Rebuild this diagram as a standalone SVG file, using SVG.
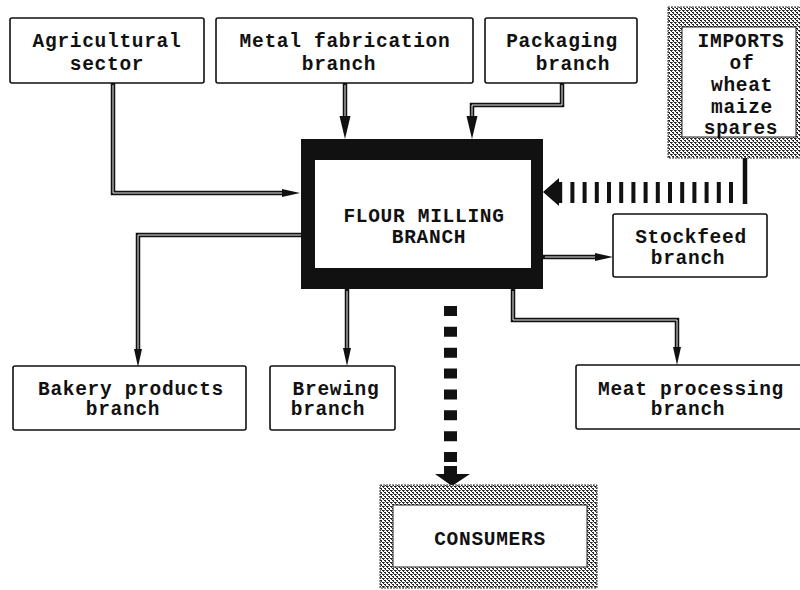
<svg xmlns="http://www.w3.org/2000/svg" width="800" height="590" viewBox="0 0 800 590">
<style>
.box{fill:#fff;stroke:#111;stroke-width:1.6}
.t{font-family:"Liberation Mono","DejaVu Sans Mono",monospace;font-weight:bold;font-size:19.5px;letter-spacing:0.7px;fill:#111;text-anchor:middle}
.pipe{fill:none;stroke:#111;stroke-width:4.5}
.pipein{fill:none;stroke:#fff;stroke-width:0.9}
.hatch{fill:url(#dots);stroke:#333;stroke-width:1;stroke-dasharray:2 1}
</style>
<defs>
<pattern id="dots" width="4" height="4" patternUnits="userSpaceOnUse">
<rect width="4" height="4" fill="#fff"/>
<rect x="0" y="0" width="2" height="1" fill="#222"/>
<rect x="2" y="2" width="2" height="1" fill="#222"/>
<rect x="1" y="1" width="1" height="1" fill="#333"/>
<rect x="3" y="3" width="1" height="1" fill="#333"/>
<rect x="0" y="2" width="1" height="1" fill="#666"/>
</pattern>
<marker id="ah" markerUnits="userSpaceOnUse" markerWidth="20" markerHeight="10" refX="0" refY="4" orient="auto" overflow="visible">
<path d="M0,0 L18,4 L0,8 z" fill="#111"/>
</marker>
<marker id="ahb" markerUnits="userSpaceOnUse" markerWidth="24" markerHeight="12" refX="0" refY="5.5" orient="auto" overflow="visible">
<path d="M0,0 L23,5.5 L0,11 z" fill="#111"/>
</marker>
</defs>
<rect width="800" height="590" fill="#fff"/>

<g id="connectors">
<path class="pipe" d="M113,83 V193 H282" marker-end="url(#ah)"/>
<path class="pipein" d="M113,85 V193 H282"/>
<path class="pipe" d="M345,83 V116" marker-end="url(#ahb)"/>
<path class="pipein" d="M345,85 V116"/>
<path class="pipe" d="M562,83 V105 H472 V116" marker-end="url(#ahb)"/>
<path class="pipein" d="M562,85 V105 H472 V116"/>
<path class="pipe" d="M301,235 H138 V349" marker-end="url(#ah)"/>
<path class="pipein" d="M301,235 H138 V349"/>
<path class="pipe" d="M347,289 V348" marker-end="url(#ah)"/>
<path class="pipein" d="M347,291 V348"/>
<path class="pipe" d="M543,257 H595" marker-end="url(#ah)"/>
<path class="pipein" d="M545,257 H595"/>
<path class="pipe" d="M513,289 V320 H677 V347" marker-end="url(#ah)"/>
<path class="pipein" d="M513,291 V320 H677 V347"/>
<line x1="745" y1="157" x2="745" y2="204" stroke="#111" stroke-width="4.5"/>
<line x1="733" y1="192.5" x2="558" y2="192.5" stroke="#111" stroke-width="21" stroke-dasharray="4 8.2"/>
<polygon points="543,192 559,178 559,206" fill="#111"/>
<line x1="450.5" y1="306" x2="450.5" y2="463" stroke="#111" stroke-width="13" stroke-dasharray="10 10.86"/>
<polygon points="444,466 457,466 457,474 470,474 452,486 435,474 444,474" fill="#111"/>
</g>

<g id="agricultural">
<rect class="box" x="10" y="18" width="194" height="65" rx="2"/>
<text class="t" x="107" y="47">Agricultural</text>
<text class="t" x="107" y="70">sector</text>
</g>
<g id="metal">
<rect class="box" x="216" y="18" width="257" height="65" rx="2"/>
<text class="t" x="345" y="47">Metal fabrication</text>
<text class="t" x="339" y="70">branch</text>
</g>
<g id="packaging">
<rect class="box" x="485" y="18" width="152" height="65" rx="2"/>
<text class="t" x="562" y="47">Packaging</text>
<text class="t" x="573" y="70">branch</text>
</g>
<g id="imports">
<rect class="hatch" x="668" y="7" width="136" height="151"/>
<rect x="682" y="27" width="114" height="110" fill="#fff" stroke="#222" stroke-width="1"/>
<text class="t" x="741" y="47">IMPORTS</text>
<text class="t" x="742" y="69">of</text>
<text class="t" x="742" y="91">wheat</text>
<text class="t" x="742" y="113">maize</text>
<text class="t" x="741" y="134">spares</text>
</g>
<g id="flour">
<rect x="301" y="139" width="242" height="150" fill="#111"/>
<rect x="315" y="160" width="216" height="108" fill="#fff"/>
<text class="t" x="424" y="222">FLOUR MILLING</text>
<text class="t" x="429" y="243">BRANCH</text>
</g>
<g id="stockfeed">
<rect class="box" x="613" y="214" width="154" height="63" rx="2"/>
<text class="t" x="691" y="243">Stockfeed</text>
<text class="t" x="688" y="264">branch</text>
</g>
<g id="bakery">
<rect class="box" x="13" y="366" width="233" height="64" rx="2"/>
<text class="t" x="131" y="395">Bakery products</text>
<text class="t" x="123" y="415">branch</text>
</g>
<g id="brewing">
<rect class="box" x="270" y="366" width="125" height="64" rx="2"/>
<text class="t" x="336" y="395">Brewing</text>
<text class="t" x="328" y="415">branch</text>
</g>
<g id="meat">
<rect class="box" x="576" y="365" width="230" height="64" rx="2"/>
<text class="t" x="691" y="395">Meat processing</text>
<text class="t" x="688" y="415">branch</text>
</g>
<g id="consumers">
<rect class="hatch" x="380" y="485" width="217" height="103"/>
<rect x="393" y="505" width="194" height="62" fill="#fff" stroke="#222" stroke-width="1"/>
<text class="t" x="490" y="545">CONSUMERS</text>
</g>
</svg>
